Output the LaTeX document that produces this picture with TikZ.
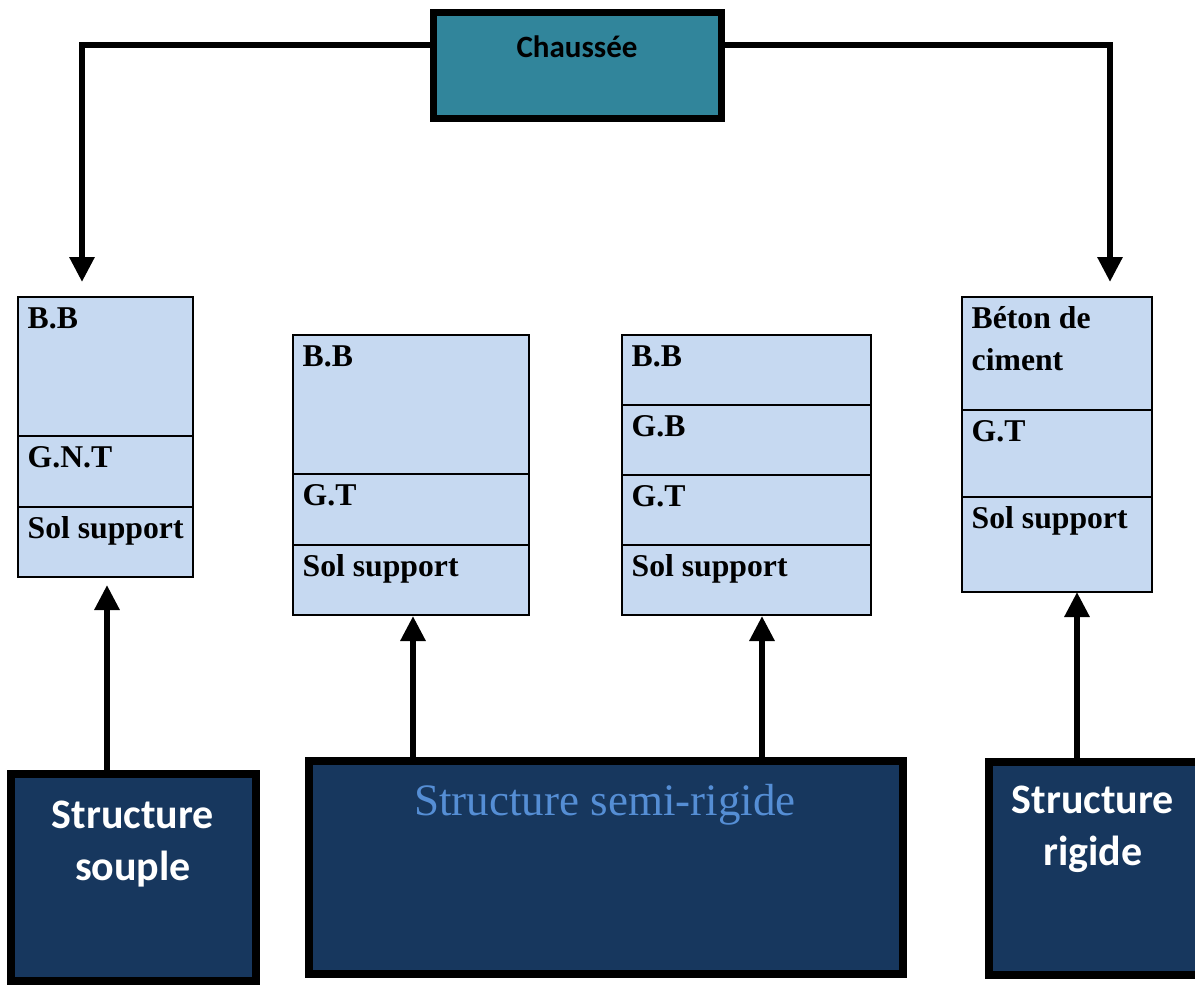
\documentclass[tikz,border=0pt]{standalone}
\usepackage{fontspec}
\setmainfont{Liberation Serif}
\newfontfamily\calib{Carlito}
\usetikzlibrary{arrows.meta}
\definecolor{tealbox}{RGB}{49,133,155}
\definecolor{navybox}{RGB}{23,55,94}
\definecolor{cellfill}{RGB}{198,217,241}
\definecolor{semitext}{RGB}{85,142,213}
\begin{document}
\begin{tikzpicture}[x=1pt,y=-1pt,
  cellbox/.style={draw=black, line width=1.6pt, fill=cellfill, anchor=north west, inner sep=0pt, outer sep=0pt},
  bigbox/.style={draw=black, line width=8pt, fill=navybox, anchor=north west, inner sep=0pt, outer sep=0pt},
  lbl/.style={anchor=base west, inner sep=0pt, font=\bfseries\fontsize{31.7}{38}\selectfont},
  wlbl/.style={anchor=base, inner sep=0pt, text=white, font=\calib\bfseries\fontsize{42}{52}\selectfont},
  arr/.style={line width=6pt, -{Triangle[width=24pt,length=25pt]}},
  conn/.style={line width=6pt}
]
\clip (0,0) rectangle (1195,985);
\fill[white] (0,0) rectangle (1195,985);

% top box
\node[draw=black, line width=7pt, fill=tealbox, anchor=north west, inner sep=0pt, outer sep=0pt,
  minimum width=288pt, minimum height=106pt] (ch) at (433.5,12.5) {};
\node[anchor=base, inner sep=0pt, font=\calib\bfseries\fontsize{31}{37}\selectfont] (cht) at (577,57) {Chaussée};

% stack A (souple)
\node[cellbox, minimum width=175pt, minimum height=139pt] (a1) at (18,297) {};
\node[cellbox, minimum width=175pt, minimum height=71pt] (a2) at (18,436) {};
\node[cellbox, minimum width=175pt, minimum height=70pt] (a3) at (18,507) {};
\node[lbl] (ta1) at ([xshift=9.5pt,yshift=-31pt]a1.north west) {B.B};
\node[lbl] (ta2) at ([xshift=9.5pt,yshift=-31pt]a2.north west) {G.N.T};
\node[lbl] (ta3) at ([xshift=9.5pt,yshift=-31pt]a3.north west) {Sol support};

% stack B
\node[cellbox, minimum width=236pt, minimum height=139pt] (b1) at (293,335) {};
\node[cellbox, minimum width=236pt, minimum height=71pt] (b2) at (293,474) {};
\node[cellbox, minimum width=236pt, minimum height=70pt] (b3) at (293,545) {};
\node[lbl] (tb1) at ([xshift=9.5pt,yshift=-31pt]b1.north west) {B.B};
\node[lbl] (tb2) at ([xshift=9.5pt,yshift=-31pt]b2.north west) {G.T};
\node[lbl] (tb3) at ([xshift=9.5pt,yshift=-31pt]b3.north west) {Sol support};

% stack C
\node[cellbox, minimum width=249pt, minimum height=70pt] (c1) at (622,335) {};
\node[cellbox, minimum width=249pt, minimum height=70pt] (c2) at (622,405) {};
\node[cellbox, minimum width=249pt, minimum height=70pt] (c3) at (622,475) {};
\node[cellbox, minimum width=249pt, minimum height=70pt] (c4) at (622,545) {};
\node[lbl] (tc1) at ([xshift=9.5pt,yshift=-31pt]c1.north west) {B.B};
\node[lbl] (tc2) at ([xshift=9.5pt,yshift=-31pt]c2.north west) {G.B};
\node[lbl] (tc3) at ([xshift=9.5pt,yshift=-31pt]c3.north west) {G.T};
\node[lbl] (tc4) at ([xshift=9.5pt,yshift=-31pt]c4.north west) {Sol support};

% stack D (rigide)
\node[cellbox, minimum width=190pt, minimum height=113pt] (d1) at (962,297) {};
\node[cellbox, minimum width=190pt, minimum height=87pt] (d2) at (962,410) {};
\node[cellbox, minimum width=190pt, minimum height=95pt] (d3) at (962,497) {};
\node[lbl] (td1) at ([xshift=9.5pt,yshift=-31pt]d1.north west) {Béton de};
\node[lbl] (td1b) at ([xshift=9.5pt,yshift=-73pt]d1.north west) {ciment};
\node[lbl] (td2) at ([xshift=9.5pt,yshift=-31pt]d2.north west) {G.T};
\node[lbl] (td3) at ([xshift=9.5pt,yshift=-31pt]d3.north west) {Sol support};

% bottom boxes
\node[bigbox, minimum width=245pt, minimum height=207pt] (sb1) at (11,774) {};
\node[wlbl] (s1a) at (133,828) {Structure};
\node[wlbl] (s1b) at (133,880) {souple};

\node[bigbox, minimum width=594pt, minimum height=213pt] (sb2) at (309,761) {};
\node[anchor=base, inner sep=0pt, text=semitext, font=\fontsize{45}{54}\selectfont] (s2) at (605,815) {Structure semi-rigide};

\node[bigbox, minimum width=216pt, minimum height=213pt] (sb3) at (989,762) {};
\node[wlbl] (s3a) at (1093,813) {Structure};
\node[wlbl] (s3b) at (1093,865) {rigide};

% connectors from top box
\coordinate (tipA) at (82,282);
\coordinate (tipD) at (1110,282);
\draw[arr] ([yshift=21pt]ch.west) -| (tipA);
\draw[arr] ([yshift=21pt]ch.east) -| (tipD);

% connectors from bottom boxes
\coordinate (upA) at (107,585);
\coordinate (upB) at (413,616);
\coordinate (upC) at (762,616);
\coordinate (upD) at (1077,592);
\draw[arr] (upA |- sb1.north) -- (upA);
\draw[arr] (upB |- sb2.north) -- (upB);
\draw[arr] (upC |- sb2.north) -- (upC);
\draw[arr] (upD |- sb3.north) -- (upD);
\end{tikzpicture}
\end{document}
